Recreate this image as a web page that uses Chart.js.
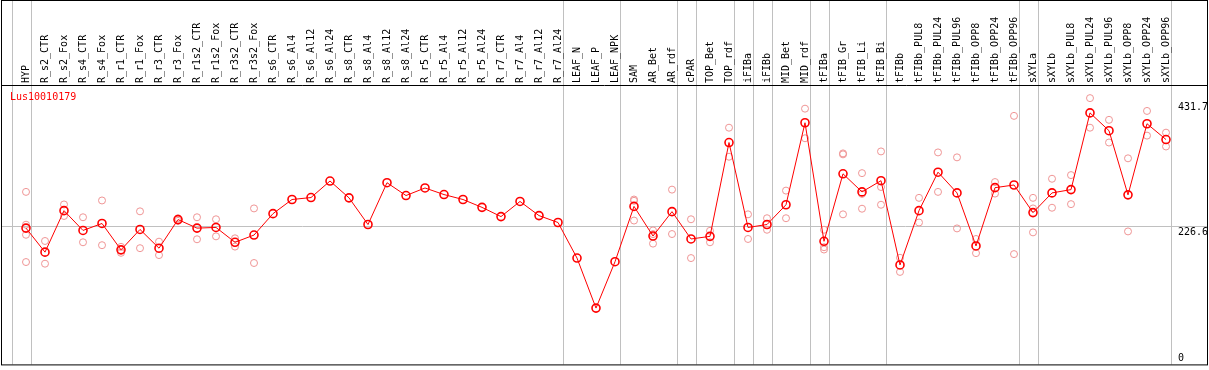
<!DOCTYPE html>
<html>
<head>
<meta charset="utf-8">
<script src="https://cdn.jsdelivr.net/npm/chart.js@4"></script>
<style>
  html, body { margin: 0; padding: 0; background: #fff; }
  canvas { display: block; }
</style>
</head>
<body>
<canvas id="chart" width="1209" height="370"></canvas>
<script>
const samples = ['HYP', 'R_s2_CTR', 'R_s2_Fox', 'R_s4_CTR', 'R_s4_Fox', 'R_r1_CTR', 'R_r1_Fox', 'R_r3_CTR', 'R_r3_Fox',
  'R_r1s2_CTR', 'R_r1s2_Fox', 'R_r3s2_CTR', 'R_r3s2_Fox', 'R_s6_CTR', 'R_s6_Al4', 'R_s6_Al12', 'R_s6_Al24',
  'R_s8_CTR', 'R_s8_Al4', 'R_s8_Al12', 'R_s8_Al24', 'R_r5_CTR', 'R_r5_Al4', 'R_r5_Al12', 'R_r5_Al24',
  'R_r7_CTR', 'R_r7_Al4', 'R_r7_Al12', 'R_r7_Al24', 'LEAF_N', 'LEAF_P', 'LEAF_NPK', 'SAM', 'AR_Bet', 'AR_rdf',
  'cPAR', 'TOP_Bet', 'TOP_rdf', 'iFIBa', 'iFIBb', 'MID_Bet', 'MID_rdf', 'tFIBa', 'tFIB_Gr', 'tFIB_Li', 'tFIB_Bi',
  'tFIBb', 'tFIBb_PUL8', 'tFIBb_PUL24', 'tFIBb_PUL96', 'tFIBb_OPP8', 'tFIBb_OPP24', 'tFIBb_OPP96',
  'sXYLa', 'sXYLb', 'sXYLb_PUL8', 'sXYLb_PUL24', 'sXYLb_PUL96', 'sXYLb_OPP8', 'sXYLb_OPP24', 'sXYLb_OPP96'];

// mean expression per sample
const means = [223.4, 184.0, 252.0, 219.6, 231.0, 187.8, 221.2, 190.5, 237.4,
  223.4, 224.5, 200.2, 212.0, 247.1, 270.3, 273.5, 300.6,
  273.0, 229.3, 297.8, 276.8, 289.2, 278.4, 270.3, 257.4,
  242.3, 267.1, 243.9, 232.6, 174.3, 92.3, 168.3, 259.0, 210.4, 250.4,
  205.6, 209.9, 363.7, 224.5, 229.3, 261.7, 396.1, 201.8, 312.4, 282.8, 301.1,
  163.0, 252.0, 315.1, 281.1, 194.2, 289.7, 294.1,
  248.8, 281.1, 286.5, 412.3, 383.1, 277.9, 394.5, 368.6];

// single replicates (null = none)
const rep1 = [282.8, 202.3, 262.2, 241.2, 268.7, 192.7, 250.9, 201.2, 239.5,
  241.2, 237.9, 206.7, 255.7, null, null, null, null,
  null, null, null, null, null, null, null, null,
  null, null, null, null, null, null, null, 270.3, 219.6, 286.5,
  237.9, 219.0, 388.0, 246.0, 239.6, 284.9, 419.2, 220.7, 345.9, 313.5, 349.1,
  174.8, 273.0, 347.5, 339.4, 205.6, 298.9, 407.4,
  273.0, 304.3, 310.3, 436.5, 400.9, 337.8, 415.5, 379.9];
const rep2 = [212.5, 165.1, 243.3, 200.2, 195.4, 182.9, 190.5, 179.2, 235.3,
  205.1, 209.9, 193.1, 166.2, null, null, null, null,
  null, null, null, null, null, null, null, null,
  null, null, null, null, null, null, null, 235.8, 198.0, 213.7,
  174.3, 200.2, 340.4, 205.6, 220.7, 239.6, 370.7, 192.1, 246.0, 255.2, 261.7,
  151.6, 232.6, 282.8, 222.9, 182.4, 280.0, 180.8,
  216.4, 256.8, 262.7, 388.0, 363.7, 218.0, 375.0, 357.2];
const rep3 = [167.8, null, null, null, null, null, null, null, null,
  null, null, null, null, null, null, null, null,
  null, null, null, null, null, null, null, null,
  null, null, null, null, null, null, null, 268.2, 213.6, null,
  null, null, null, null, null, null, null, 188.3, 344.3, 279.5, 290.8,
  null, null, null, null, null, null, null,
  255.7, null, null, null, null, null, null, null];
const rep4 = [229.0];

const groupEnds = [-1, 0, 28, 31, 34, 35, 37, 38, 39, 41, 42, 45, 52, 53, 60];
const yTicks = [431.7, 226.6, 0];
const refValue = 226.6;
const geneId = 'Lus10010179';

const FONT = '10px "DejaVu Sans Mono", monospace';

const frame = {
  id: 'frame',
  beforeDraw(chart) {
    const { ctx, scales: { x, y } } = chart;
    const bottom = chart.chartArea.bottom;
    ctx.save();
    ctx.fillStyle = '#fff';
    ctx.fillRect(0, 0, chart.width, chart.height);
    ctx.strokeStyle = '#c0c0c0';
    ctx.lineWidth = 1;
    ctx.beginPath();
    groupEnds.forEach((i) => {
      const px = Math.round(x.getPixelForValue(i) + 4.5) + 0.5;
      ctx.moveTo(px, 0);
      ctx.lineTo(px, bottom);
    });
    const gy = Math.round(y.getPixelForValue(refValue)) + 0.5;
    ctx.moveTo(1, gy);
    ctx.lineTo(1207, gy);
    ctx.stroke();
    ctx.restore();
  },
  afterDraw(chart) {
    const { ctx, scales: { x, y } } = chart;
    const bottom = chart.chartArea.bottom;
    ctx.save();
    ctx.strokeStyle = '#000';
    ctx.lineWidth = 1;
    ctx.strokeRect(1.5, 0.5, 1206, bottom);
    ctx.beginPath();
    ctx.moveTo(1, x.bottom + 0.5);
    ctx.lineTo(1208, x.bottom + 0.5);
    ctx.stroke();

    ctx.font = FONT;
    ctx.textAlign = 'left';
    ctx.textBaseline = 'alphabetic';
    ctx.fillStyle = '#ff0000';
    ctx.fillText(geneId, 10, 100);

    ctx.fillStyle = '#000';
    yTicks.forEach((v) => {
      let py = Math.round(y.getPixelForValue(v)) + 9;
      if (py > bottom - 3) py = bottom - 3;
      ctx.fillText(String(v), 1178, py);
    });
    ctx.restore();
  }
};

const replicate = (data) => ({
  data,
  showLine: false,
  clip: false,
  pointRadius: 3.5,
  pointBorderWidth: 1,
  pointBorderColor: 'rgb(240,150,150)',
  pointBackgroundColor: 'rgba(0,0,0,0)',
  pointHoverRadius: 3.5
});

new Chart(document.getElementById('chart'), {
  type: 'line',
  data: {
    labels: samples,
    datasets: [
      {
        data: means,
        clip: false,
        borderColor: '#ff0000',
        borderWidth: 1,
        pointRadius: 4,
        pointBorderWidth: 1.6,
        pointBorderColor: '#ff0000',
        pointBackgroundColor: 'rgba(0,0,0,0)',
        tension: 0
      },
      replicate(rep1),
      replicate(rep2),
      replicate(rep3),
      replicate(rep4)
    ]
  },
  options: {
    responsive: false,
    animation: false,
    devicePixelRatio: 1,
    layout: { padding: { left: 26, right: 43, top: 0, bottom: 2 } },
    plugins: { legend: { display: false }, tooltip: { enabled: false } },
    scales: {
      x: {
        position: 'top',
        offset: false,
        grid: { display: false, drawTicks: false },
        border: { display: false },
        ticks: {
          autoSkip: false,
          minRotation: 90,
          maxRotation: 90,
          padding: 2,
          labelOffset: 12,
          color: '#000',
          font: { family: '"DejaVu Sans Mono", monospace', size: 10 }
        },
        afterFit(scale) { scale.height = 85; }
      },
      y: {
        display: false,
        min: 0,
        max: 458
      }
    }
  },
  plugins: [frame]
});
</script>
</body>
</html>
